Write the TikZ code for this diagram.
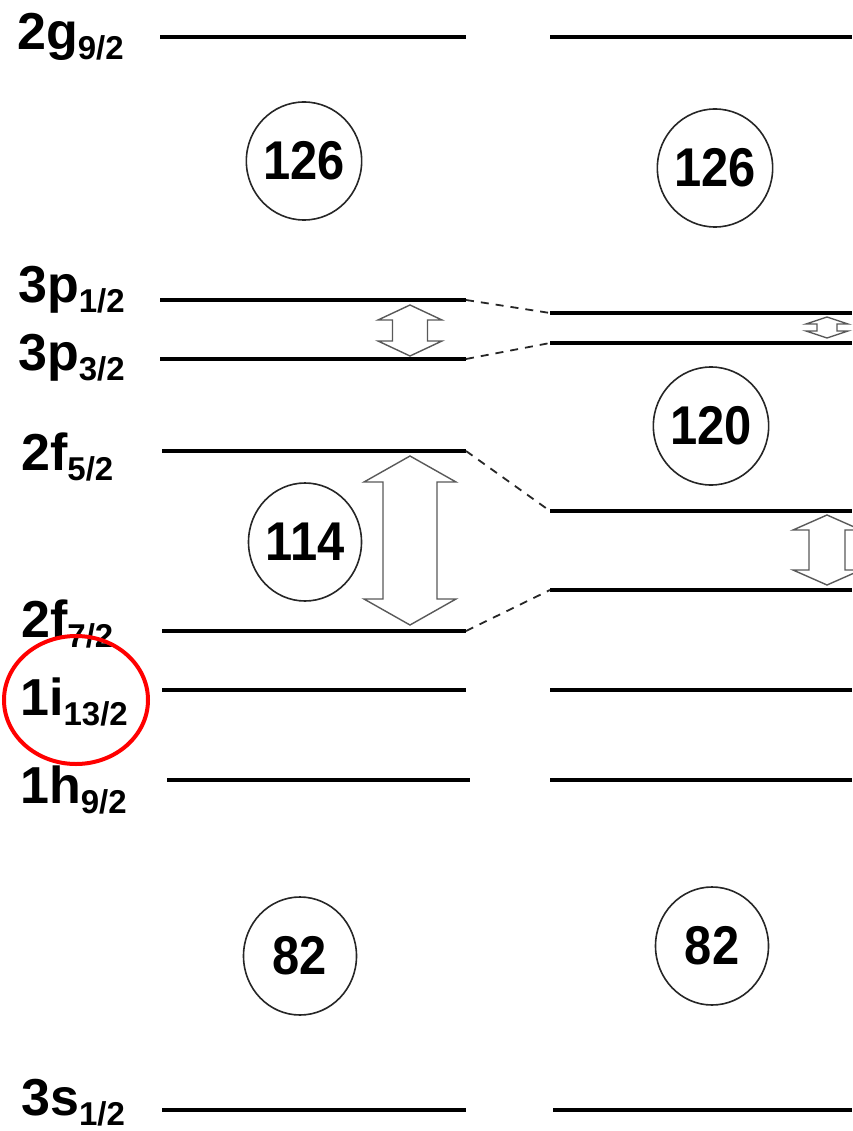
\documentclass[tikz,border=0pt]{standalone}
\usepackage{fontspec}
\usepackage{graphicx}
\setmainfont{Liberation Sans}
\usetikzlibrary{shapes.geometric}
\newcommand{\lsub}[1]{\raisebox{-10pt}{\fontsize{33}{33}\selectfont #1}}
\newcommand{\mnum}[1]{\scalebox{0.94}[1.05]{#1}}
\newcommand{\hollowdbl}[6]{%
  \draw[arrowshape] (#1,#2) -- (#1+#5,#2+#4) -- (#1+#6,#2+#4) -- (#1+#6,#3-#4) -- (#1+#5,#3-#4) -- (#1,#3)
    -- (#1-#5,#3-#4) -- (#1-#6,#3-#4) -- (#1-#6,#2+#4) -- (#1-#5,#2+#4) -- cycle;}
\tikzset{
  level/.style={line width=3.6pt, black},
  conn/.style={line width=1.8pt, black!85, dash pattern=on 8pt off 7pt},
  lab/.style={anchor=base west, inner sep=0pt, font=\fontsize{52}{52}\selectfont\bfseries},
  magic/.style={ellipse, draw=black!85, line width=1.6pt, minimum width=113pt, minimum height=118pt,
    inner sep=0pt, font=\fontsize{52}{52}\selectfont\bfseries},
  arrowshape/.style={draw=black!65, line width=1.4pt, fill=white, line join=miter},
}
\begin{document}
\begin{tikzpicture}[x=1pt,y=-1pt]
\useasboundingbox (0,0) rectangle (852,1131);
% level end points
\coordinate (A1) at (160,37);  \coordinate (A2) at (466,37);
\coordinate (A3) at (550,37);  \coordinate (A4) at (852,37);
\coordinate (B1) at (160,300); \coordinate (B2) at (466,300);
\coordinate (B3) at (550,313); \coordinate (B4) at (852,313);
\coordinate (C1) at (160,359); \coordinate (C2) at (466,359);
\coordinate (C3) at (550,343); \coordinate (C4) at (852,343);
\coordinate (D1) at (162,451); \coordinate (D2) at (466,451);
\coordinate (D3) at (550,511); \coordinate (D4) at (852,511);
\coordinate (E1) at (162,631); \coordinate (E2) at (466,631);
\coordinate (E3) at (550,590); \coordinate (E4) at (852,590);
\coordinate (F1) at (162,690); \coordinate (F2) at (466,690);
\coordinate (F3) at (550,690); \coordinate (F4) at (852,690);
\coordinate (G1) at (167,780); \coordinate (G2) at (470,780);
\coordinate (G3) at (550,780); \coordinate (G4) at (852,780);
\coordinate (H1) at (162,1110); \coordinate (H2) at (466,1110);
\coordinate (H3) at (553,1110); \coordinate (H4) at (852,1110);
\foreach \p in {A,B,C,D,E,F,G,H}{
  \draw[level] (\p1) -- (\p2);
  \draw[level] (\p3) -- (\p4);
}
% dashed connectors
\draw[conn] (B2) -- (B3);
\draw[conn] (C2) -- (C3);
\draw[conn] (D2) -- (D3);
\draw[conn] (E2) -- (E3);
% labels
\node[lab] (l2g) at (17,50) {2g\lsub{9/2}};
\node[lab] (l3p1) at (18,302) {3p\lsub{1/2}};
\node[lab] (l3p3) at (18,370) {3p\lsub{3/2}};
\node[lab] (l2f5) at (21,470) {2f\lsub{5/2}};
\node[lab] (l2f7) at (21,637) {2f\lsub{7/2}};
\node[lab] (l1i) at (20,715) {1i\lsub{13/2}};
\node[lab] (l1h) at (20,803) {1h\lsub{9/2}};
\node[lab] (l3s) at (21,1115) {3s\lsub{1/2}};
% magic numbers
\node[magic] (m126a) at (304,161) {\mnum{126}};
\node[magic] (m126b) at (715,168) {\mnum{126}};
\node[magic] (m120) at (711,426) {\mnum{120}};
\node[magic] (m114) at (305,542) {\mnum{114}};
\node[magic] (m82a) at (300,956) {\mnum{82}};
\node[magic] (m82b) at (712,946) {\mnum{82}};
% splitting arrows
\hollowdbl{410}{305}{356}{15}{32}{17.5}
\hollowdbl{410}{456}{625}{26}{46}{27}
\hollowdbl{827}{317}{338}{7}{21}{10}
\hollowdbl{827}{515}{585}{15}{34}{18}
% highlight
\draw[red, line width=4pt] (76,700) ellipse [x radius=72, y radius=64];
\end{tikzpicture}
\end{document}
